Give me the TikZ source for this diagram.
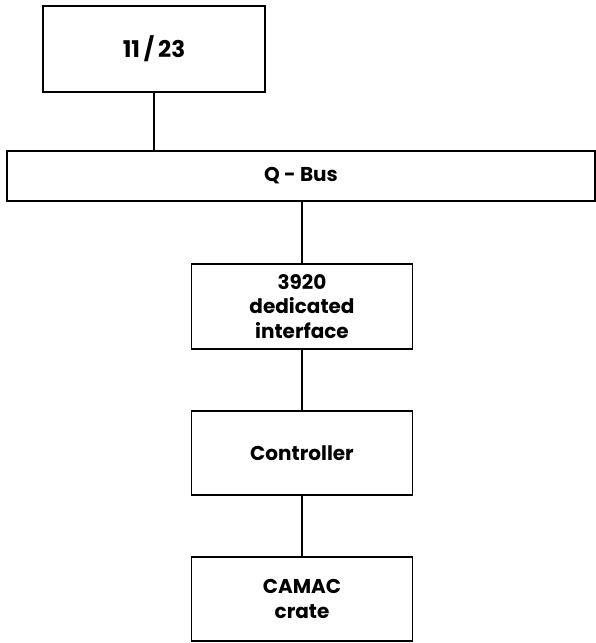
\documentclass[tikz,border=0pt]{standalone}
\usepackage{fontspec}
\setmainfont{Poppins}
\begin{document}
\begin{tikzpicture}[x=1pt,y=-1pt,
  blk/.style={draw=black,line width=1.7pt,rectangle,anchor=center,inner sep=0pt,
    font=\fontsize{20}{24.5}\selectfont\bfseries,align=center,text=black},
  conn/.style={draw=black,line width=1.7pt}]
\useasboundingbox (0,0) rectangle (596,643);
\node[blk,minimum width=222pt,minimum height=86pt,font=\fontsize{23}{26}\selectfont\bfseries] (cpu) at (154,49) {11\,/\,23};
\node[blk,minimum width=588pt,minimum height=50pt] (qbus) at (301,176) {Q - Bus};
\node[blk,minimum width=221pt,minimum height=85pt] (intf) at (302,306.5) {3920\\dedicated\\interface};
\node[blk,minimum width=221pt,minimum height=84pt] (ctrl) at (302,453) {Controller};
\node[blk,minimum width=221pt,minimum height=84pt] (crate) at (302,599) {CAMAC\\crate};
\draw[conn] (cpu.south) -- (cpu.south |- qbus.north);
\draw[conn] (qbus.south -| intf.north) -- (intf.north);
\draw[conn] (intf.south) -- (ctrl.north);
\draw[conn] (ctrl.south) -- (crate.north);
\end{tikzpicture}
\end{document}
